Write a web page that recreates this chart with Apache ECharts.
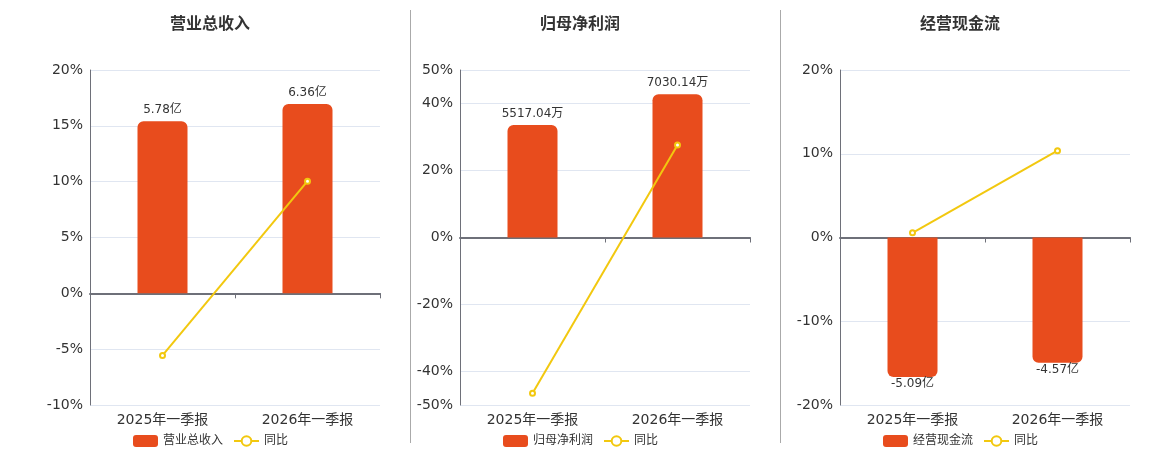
<!DOCTYPE html>
<html><head><meta charset="utf-8">
<script src="https://cdn.jsdelivr.net/npm/echarts@6/dist/echarts.min.js"></script>
<style>html,body{margin:0;padding:0;background:#fff}#c{width:1160px;height:450px}</style>
</head><body><div id="c"></div>
<script>
const categories = ['2025年一季报', '2026年一季报'];
const titles = ['营业总收入', '归母净利润', '经营现金流'];
const units = ['亿', '万', '亿'];
const revenue = [5.78, 6.36];
const netProfit = [5517.04, 7030.14];
const cashFlow = [-5.09, -4.57];
const revenueYoy = [-5.56, 10.04];
const netProfitYoy = [-46.5, 27.6];
const cashFlowYoy = [0.56, 10.36];
const pctMin = [-10, -50, -20];
const pctMax = [20, 50, 20];
const pctInterval = [5, null, 10];
const barMax = [7.5, 8220, 6.11];

const amounts = [revenue, netProfit, cashFlow];
const yoys = [revenueYoy, netProfitYoy, cashFlowYoy];
const gridLefts = [90, 460, 840];
const titleLefts = [165, 535, 915];
const legendLefts = [128, 498, 878];
const FONT = 'DejaVu Sans, Noto Sans CJK SC, sans-serif';
const BAR = '#E84C1D';
const LINE = '#F2C80F';

const grid = [], xAxis = [], yAxis = [], series = [], title = [], legend = [];
for (let i = 0; i < 3; i++) {
  grid.push({left: gridLefts[i], top: 70, width: 290, height: 335});
  title.push({text: titles[i], left: titleLefts[i], top: 12,
    textStyle: {fontSize: 16, fontWeight: 'bold', color: '#333', fontFamily: FONT}});
  xAxis.push({type: 'category', gridIndex: i, data: categories,
    axisLine: {onZero: true, lineStyle: {color: '#6E7079', width: 2}},
    axisTick: {show: true, length: 5, lineStyle: {color: '#6E7079'}},
    axisLabel: {fontSize: 14, color: '#333', fontFamily: FONT, margin: 8, interval: 0}});
  const ya = {type: 'value', gridIndex: i, min: pctMin[i], max: pctMax[i],
    axisLine: {show: true, lineStyle: {color: '#6E7079'}},
    axisTick: {show: false},
    splitLine: {lineStyle: {color: '#E0E6F1'}},
    axisLabel: {fontSize: 14, color: '#333', fontFamily: FONT, margin: 7, formatter: '{value}%', showMinLabel: true, showMaxLabel: true}};
  if (pctInterval[i]) ya.interval = pctInterval[i]; else ya.splitNumber = 5;
  yAxis.push(ya);
  const bMax = barMax[i];
  const bMin = -bMax * (-pctMin[i]) / pctMax[i];
  yAxis.push({type: 'value', gridIndex: i, min: bMin, max: bMax, show: false, splitLine: {show: false}});
  const unit = units[i];
  series.push({name: titles[i], type: 'bar', xAxisIndex: i, yAxisIndex: 2 * i + 1,
    data: amounts[i].map(v => ({value: v, label: {position: v < 0 ? 'bottom' : 'top', distance: v < 0 ? 1 : 5},
      itemStyle: {borderRadius: v < 0 ? [0, 0, 6, 6] : [6, 6, 0, 0]}})),
    barWidth: 50,
    itemStyle: {color: BAR},
    label: {show: true, fontSize: 12, color: '#333', fontFamily: FONT, formatter: p => p.value + unit}});
  series.push({name: '同比', type: 'line', xAxisIndex: i, yAxisIndex: 2 * i, data: yoys[i],
    symbol: 'emptyCircle', symbolSize: 5, z: 5,
    lineStyle: {color: LINE, width: 2}, itemStyle: {color: LINE, borderWidth: 1.5}});
  legend.push({left: legendLefts[i], top: 430, itemGap: 10, itemWidth: 25, itemHeight: 12,
    data: [{name: titles[i], icon: 'roundRect'}, {name: '同比'}],
    textStyle: {fontSize: 12, color: '#333', fontFamily: FONT}});
}

const chart = echarts.init(document.getElementById('c'));
chart.setOption({
  animation: false,
  title, grid, xAxis, yAxis, series, legend,
  graphic: [
    {type: 'line', shape: {x1: 410.5, y1: 10, x2: 410.5, y2: 443}, style: {stroke: '#AAAAAA', lineWidth: 1}},
    {type: 'line', shape: {x1: 780.5, y1: 10, x2: 780.5, y2: 443}, style: {stroke: '#AAAAAA', lineWidth: 1}}
  ]
});
</script></body></html>
